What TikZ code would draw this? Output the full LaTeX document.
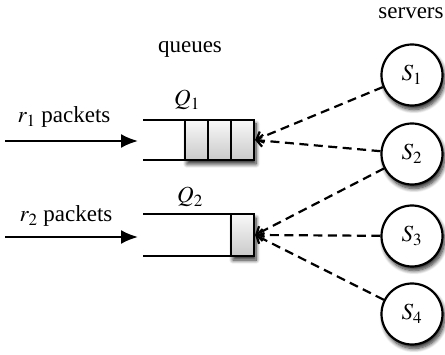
\documentclass[tikz,border=0pt]{standalone}
\usepackage{mathptmx}
\usepackage{fontspec}
\setmainfont{Liberation Serif}
\usetikzlibrary{arrows.meta,shadows,shadows.blur}
\begin{document}
\begin{tikzpicture}[x=1pt,y=-1pt,
  every node/.style={font=\fontsize{23}{27}\selectfont},
  server/.style={circle,draw,line width=2.2pt,fill=white,minimum size=61pt,inner sep=0pt,
    blur shadow={shadow xshift=2pt,shadow yshift=-4pt,shadow blur steps=8,shadow opacity=85,shadow blur radius=4pt}},
  qbox/.style={rectangle,draw,line width=2.2pt,inner sep=0pt,top color=gray!5,bottom color=gray!42,
    blur shadow={shadow xshift=2pt,shadow yshift=-4pt,shadow blur steps=8,shadow opacity=85,shadow blur radius=4pt}},
  qline/.style={line width=2.2pt},
  pkt/.style={line width=2.2pt,-{Latex[length=17pt,width=14pt]}},
  dasharrow/.style={line width=2.2pt,dash pattern=on 9pt off 5.5pt,-{Straight Barb[length=6pt,width=12pt]}}
]
\useasboundingbox (0,0) rectangle (445,355);
% labels
\node (servers) at (411,13) {servers};
\node (queues) at (190,49) {queues};
% queue 1
\coordinate (q1tl) at (143,120);
\coordinate (q1bl) at (143,160);
\draw[qline] (q1tl) -- (254,120);
\draw[qline] (q1bl) -- (254,160);
\node[qbox,minimum width=69pt,minimum height=40pt] (q1) at (219.5,140) {};
\draw[qline] (208,120) -- (208,160);
\draw[qline] (231,120) -- (231,160);
\node (Q1) at (187,100) {$Q_1$};
% queue 2
\coordinate (q2tl) at (143,214);
\coordinate (q2bl) at (143,256);
\draw[qline] (q2tl) -- (254,214);
\draw[qline] (q2bl) -- (254,256);
\node[qbox,minimum width=23pt,minimum height=42pt] (q2) at (242.5,235) {};
\node (Q2) at (190,197) {$Q_2$};
% packet arrows
\coordinate (a1s) at (5,141);
\coordinate (a1e) at (138,141);
\coordinate (a2s) at (5,237);
\coordinate (a2e) at (138,237);
\draw[pkt] (a1s) -- (a1e);
\draw[pkt] (a2s) -- (a2e);
\node (r1) at (64,117) {$r_1$ packets};
\node (r2) at (66,216) {$r_2$ packets};
% servers
\node[server] (s1) at (412,75) {$S_1$};
\node[server] (s2) at (412,154) {$S_2$};
\node[server] (s3) at (412,236) {$S_3$};
\node[server] (s4) at (412,314) {$S_4$};
% connections
\draw[dasharrow] (s1) -- (q1.east);
\draw[dasharrow] (s2) -- (q1.east);
\draw[dasharrow] (s2) -- (q2.east);
\draw[dasharrow] (s3) -- (q2.east);
\draw[dasharrow] (s4) -- (q2.east);
\end{tikzpicture}
\end{document}
